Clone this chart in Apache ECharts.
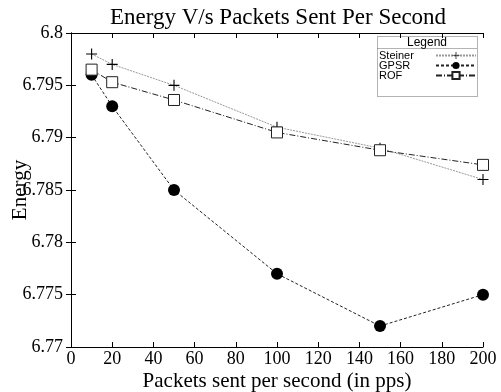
<!DOCTYPE html>
<html><head><meta charset="utf-8">
<script src="https://cdn.jsdelivr.net/npm/echarts@6/dist/echarts.min.js"></script>
<style>html,body{margin:0;padding:0;background:#fff}#c{width:501px;height:392px}</style>
</head><body><div id="c"></div>
<script>
const xValues = [10, 20, 50, 100, 150, 200];
const steiner = [6.798, 6.797, 6.795, 6.791, 6.789, 6.786];
const gpsr = [6.796, 6.793, 6.785, 6.777, 6.772, 6.775];
const rof = [6.7965, 6.7953, 6.7936, 6.7905, 6.7888, 6.7874];
const seriesNames = ['Steiner', 'GPSR', 'ROF'];

const serif = 'Liberation Serif';
const pair = (ys) => xValues.map((x, i) => [x, ys[i]]);
const plusPath = 'path://M4.5,0H5.5V10H4.5ZM0,4.5H10V5.5H0Z';

const chart = echarts.init(document.getElementById('c'));
const axisCommon = {
  axisLine: {show: true, lineStyle: {color: '#000', width: 1}},
  axisTick: {show: true, inside: true, length: 5, lineStyle: {color: '#000'}},
  splitLine: {show: false}
};
chart.setOption({
  animation: false,
  backgroundColor: '#fff',
  title: {
    text: 'Energy V/s Packets Sent Per Second', left: 273, top: 1, textAlign: 'center',
    textStyle: {fontFamily: serif, fontSize: 23, fontWeight: 'normal', color: '#000'}
  },
  grid: {left: 71, right: 18, top: 33, bottom: 45, containLabel: false, outerBoundsMode: 'none'},
  legend: {
    orient: 'vertical', left: 379, top: 50, align: 'right', itemGap: -1, padding: 0,
    itemWidth: 40, itemHeight: 9,
    data: seriesNames,
    formatter: n => '{a|' + n + '}',
    textStyle: {
      fontFamily: 'Liberation Sans', fontSize: 11, color: '#000',
      rich: {a: {width: 52, align: 'left', lineHeight: 10, fontFamily: 'Liberation Sans', fontSize: 11, color: '#000'}}
    }
  },
  graphic: [
    {type: 'rect', shape: {x: 377.5, y: 36.5, width: 100, height: 60},
     style: {fill: 'none', stroke: '#666', lineWidth: 1, lineDash: [1, 1]}},
    {type: 'line', shape: {x1: 377.5, y1: 48.5, x2: 477.5, y2: 48.5},
     style: {stroke: '#666', lineWidth: 1, lineDash: [1, 1]}},
    {type: 'text', x: 427, y: 37, style: {text: 'Legend', fontFamily: 'Liberation Sans', fontSize: 12, fill: '#000', textAlign: 'center'}}
  ],
  xAxis: [
    Object.assign({type: 'value', min: 0, max: 200, interval: 20, position: 'bottom',
      name: 'Packets sent per second (in pps)', nameLocation: 'middle', nameGap: 24, nameMoveOverlap: false,
      nameTextStyle: {fontFamily: serif, fontSize: 21, color: '#000'},
      axisLabel: {fontFamily: serif, fontSize: 18, color: '#000', margin: 3}}, axisCommon),
    Object.assign({type: 'value', min: 0, max: 200, interval: 20, position: 'top',
      axisLabel: {show: false}}, axisCommon)
  ],
  yAxis: [
    Object.assign({type: 'value', min: 6.77, max: 6.8, interval: 0.005, position: 'left',
      name: 'Energy', nameLocation: 'middle', nameGap: 40, nameMoveOverlap: false,
      nameTextStyle: {fontFamily: serif, fontSize: 21, color: '#000'},
      axisLabel: {fontFamily: serif, fontSize: 18, color: '#000', margin: 8,
        formatter: v => String(+v.toFixed(3))}}, axisCommon),
    Object.assign({type: 'value', min: 6.77, max: 6.8, interval: 0.005, position: 'right',
      axisLabel: {show: false}}, axisCommon)
  ],
  series: [
    {name: 'Steiner', type: 'line', data: pair(steiner), symbol: plusPath, symbolSize: 11,
     itemStyle: {color: '#000'}, lineStyle: {color: '#999', width: 1, type: [2, 1]}},
    {name: 'GPSR', type: 'line', data: pair(gpsr), symbol: 'circle', symbolSize: 12,
     itemStyle: {color: '#000'}, lineStyle: {color: '#222', width: 1, type: [3, 2]}},
    {name: 'ROF', type: 'line', data: pair(rof), symbol: 'rect', symbolSize: 11,
     itemStyle: {color: '#fff', borderColor: '#222', borderWidth: 1},
     lineStyle: {color: '#222', width: 1, type: [6, 2, 1, 2]}}
  ]
});
</script></body></html>
